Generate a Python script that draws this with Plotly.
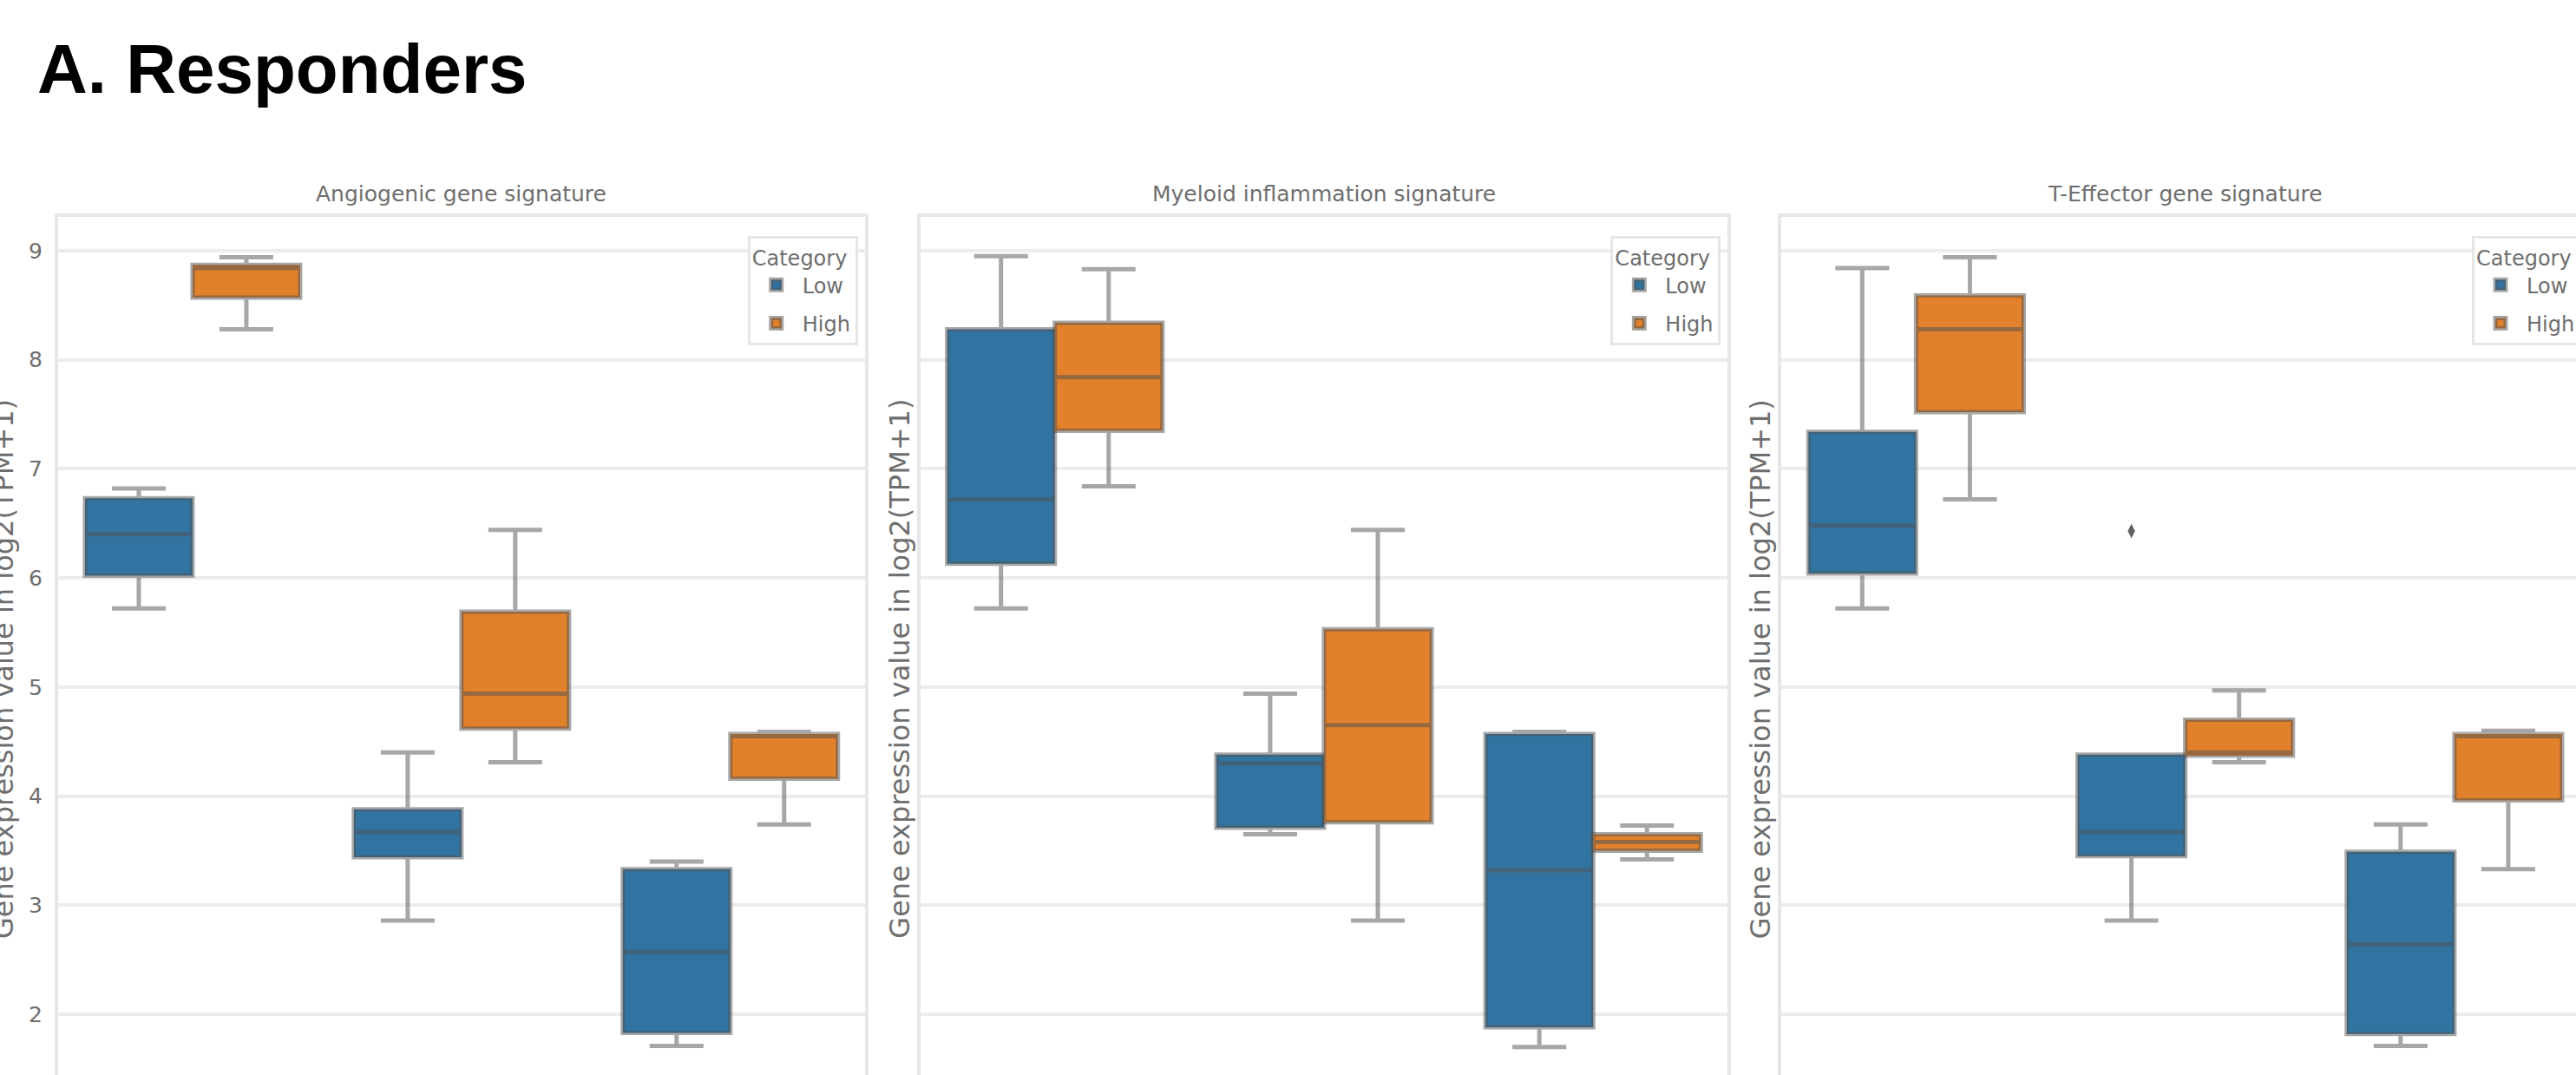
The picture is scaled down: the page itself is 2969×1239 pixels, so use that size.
import plotly.graph_objects as go

# ---------------- data ----------------
panel_titles = ["Angiogenic gene signature", "Myeloid inflammation signature", "T-Effector gene signature"]
groups = ["Group 1", "Group 2", "Group 3"]          # x categories (tick labels not visible in the crop)
series_names = ["Low", "High"]

# rows = panels (Angiogenic, Myeloid, T-Effector); columns = groups
low_lowerfence = [[5.72, 2.86, 1.71], [5.72, 3.65, 1.70], [5.72, 2.86, 1.71]]
low_q1         = [[6.02, 3.44, 1.83], [6.13, 3.71, 1.88], [6.04, 3.45, 1.82]]
low_median     = [[6.40, 3.67, 2.57], [6.72, 4.30, 3.32], [6.48, 3.67, 2.64]]
low_q3         = [[6.73, 3.88, 3.33], [8.28, 4.38, 4.57], [7.34, 4.38, 3.49]]
low_upperfence = [[6.82, 4.40, 3.40], [8.95, 4.94, 4.59], [8.84, 4.38, 3.74]]
# outliers: (panel index, group index, value)
low_outliers   = [(2, 1, 6.43)]

high_lowerfence = [[8.28, 4.31, 3.74], [6.84, 2.86, 3.42], [6.72, 4.31, 3.33]]
high_q1         = [[8.57, 4.62, 4.16], [7.35, 3.76, 3.50], [7.52, 4.37, 3.96]]
high_median     = [[8.84, 4.94, 4.55], [7.84, 4.65, 3.58], [8.28, 4.40, 4.55]]
high_q3         = [[8.87, 5.69, 4.57], [8.34, 5.53, 3.65], [8.59, 4.70, 4.57]]
high_upperfence = [[8.94, 6.44, 4.59], [8.83, 6.44, 3.73], [8.94, 4.97, 4.60]]
high_outliers   = []

y_ticks = [2, 3, 4, 5, 6, 7, 8, 9]
y_range = [1.34, 9.31]
y_label = "Gene expression value in log2(TPM+1)"
main_title = "A. Responders"
legend_title = "Category"

# ---------------- styling ----------------
W, H = 3000, 1270
ML, MR, MT, MB = 67, 12, 250, 18
plot_w = W - ML - MR
plot_h = H - MT - MB
panel_px = [(0, 931), (995, 1927), (1989, 2921)]
domains = [[a / plot_w, b / plot_w] for a, b in panel_px]

BOXGAP = 0.2
n_series = len(series_names)
box_w = (1 - BOXGAP) / n_series
dodge = {name: -(1 - BOXGAP) / 2 + box_w * (k + 0.5) for k, name in enumerate(series_names)}

colors = {"Low": "#3274a1", "High": "#e1812c"}
edge = "rgba(80,80,80,0.5)"
txt = "#6e6e6e"
font_family = "DejaVu Sans"
grid_col = "#ececec"
frame_col = "#e6e6e6"

fig = go.Figure()

stats = {
    "Low": (low_lowerfence, low_q1, low_median, low_q3, low_upperfence, low_outliers),
    "High": (high_lowerfence, high_q1, high_median, high_q3, high_upperfence, high_outliers),
}
group_idx = list(range(len(groups)))

for p in range(3):
    sfx = "" if p == 0 else str(p + 1)
    for name in series_names:
        lf, q1, med, q3, uf, outl = stats[name]
        fig.add_trace(go.Box(
            x=group_idx,
            q1=q1[p], median=med[p], q3=q3[p],
            lowerfence=lf[p], upperfence=uf[p],
            name=name,
            legend="legend" + sfx,
            legendgroup=name + sfx,
            offsetgroup=name,
            xaxis="x" + sfx, yaxis="y" + sfx,
            fillcolor=colors[name],
            line=dict(color=edge, width=5),
            whiskerwidth=0.5,
            boxpoints=False,
            hoverinfo="skip",
        ))
        pts = [(g, v) for (pp, g, v) in outl if pp == p]
        if pts:
            fig.add_trace(go.Scatter(
                x=[g + dodge[name] for g, v in pts],
                y=[v for g, v in pts],
                mode="markers", showlegend=False,
                xaxis="x" + sfx, yaxis="y" + sfx,
                marker=dict(symbol="diamond-tall", size=12, color="rgba(70,70,70,0.85)",
                            line=dict(width=0)),
                hoverinfo="skip",
            ))

layout = dict(
    width=W, height=H,
    margin=dict(l=ML, r=MR, t=MT, b=MB, pad=0),
    paper_bgcolor="white", plot_bgcolor="white",
    boxmode="group", boxgap=BOXGAP, boxgroupgap=0,
    font=dict(family=font_family, color=txt, size=22),
    showlegend=True,
)

annotations = []
for p in range(3):
    sfx = "" if p == 0 else str(p + 1)
    layout["xaxis" + sfx] = dict(
        domain=domains[p], anchor="y" + sfx, type="linear",
        range=[-0.5, len(groups) - 0.5], showticklabels=False, ticks="",
        tickvals=group_idx, ticktext=groups,
        showgrid=False, zeroline=False,
        showline=True, mirror=True, linecolor=frame_col, linewidth=4,
    )
    layout["yaxis" + sfx] = dict(
        domain=[0, 1], anchor="x" + sfx, range=y_range,
        tickvals=y_ticks, ticktext=[str(t) for t in y_ticks],
        showticklabels=(p == 0), ticks="", ticklabelstandoff=9,
        tickfont=dict(family=font_family, size=25, color=txt),
        showgrid=True, gridcolor=grid_col, gridwidth=4, zeroline=False,
        showline=True, mirror=True, linecolor=frame_col, linewidth=4,
    )
    x_right = domains[p][1] - 8 / plot_w
    layout["legend" + sfx] = dict(
        x=x_right, xanchor="right", y=1 - 22 / plot_h, yanchor="top",
        xref="paper", yref="paper",
        title=dict(text=legend_title, font=dict(family=font_family, size=24, color=txt), side="top"),
        font=dict(family=font_family, size=24, color=txt),
        bgcolor="rgba(255,255,255,0.85)", bordercolor="#e6e6e6", borderwidth=3,
        itemwidth=50, tracegroupgap=10,
    )
    cx = (domains[p][0] + domains[p][1]) / 2
    annotations.append(dict(
        text=panel_titles[p], x=cx, y=1, xref="paper", yref="paper",
        xanchor="center", yanchor="bottom", yshift=10, showarrow=False,
        font=dict(family=font_family, size=25, color=txt),
    ))
    ylab_shift = -63 if p == 0 else -24
    annotations.append(dict(
        text=y_label, x=domains[p][0], y=1 - (771 - MT) / plot_h, xref="paper", yref="paper",
        xanchor="center", yanchor="middle", xshift=ylab_shift, textangle=-90,
        showarrow=False, font=dict(family=font_family, size=32, color=txt),
    ))

annotations.append(dict(
    text="<b>" + main_title + "</b>", x=(41 - ML) / plot_w, y=1 + (MT - 80) / plot_h,
    xref="paper", yref="paper", xanchor="left", yanchor="middle", showarrow=False,
    font=dict(family="Liberation Sans", size=80, color="black"),
))
layout["annotations"] = annotations

fig.update_layout(**layout)

fig.write_html(
    "out.html",
    config={"displayModeBar": False},
    post_script="document.documentElement.style.overflow='hidden';"
                "document.body.style.overflow='hidden';document.body.style.margin='0';",
)
